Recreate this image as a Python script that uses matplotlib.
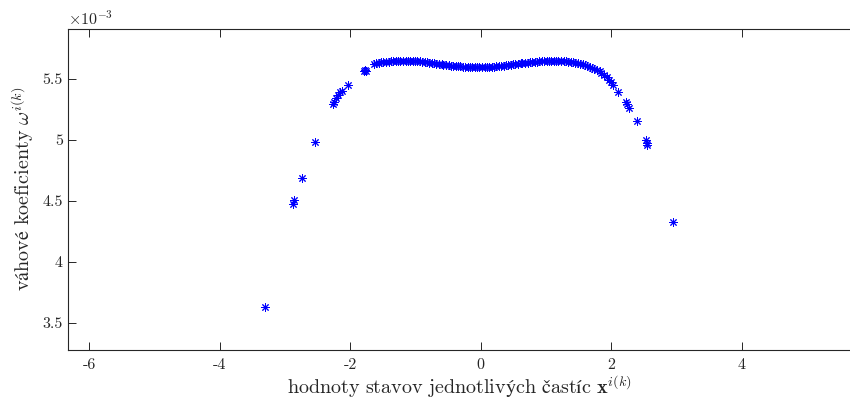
import matplotlib
matplotlib.use("Agg")
import matplotlib.pyplot as plt

plt.rcParams['mathtext.fontset'] = 'cm'
plt.rcParams['font.family'] = ['cmr10', 'DejaVu Serif']
plt.rcParams['axes.unicode_minus'] = False

# particle states (x) and weights (in units of 1e-3)
x_left_tail = [-3.30, -2.88, -2.86, -2.73, -2.54, -2.26, -2.24, -2.21, -2.18,
               -2.15, -2.13, -2.03, -1.78, -1.77, -1.76]
w_left_tail = [3.63, 4.47, 4.51, 4.69, 4.98, 5.29, 5.31, 5.34, 5.37,
               5.39, 5.40, 5.45, 5.56, 5.57, 5.565]

x_plateau = [-1.63, -1.60, -1.56, -1.52, -1.49, -1.45, -1.41, -1.38, -1.34, -1.30,
             -1.27, -1.23, -1.19, -1.15, -1.12, -1.08, -1.04, -1.01, -0.97, -0.93,
             -0.90, -0.86, -0.82, -0.79, -0.75, -0.71, -0.68, -0.64, -0.60, -0.57,
             -0.53, -0.49, -0.46, -0.42, -0.38, -0.35, -0.31, -0.27, -0.24, -0.20,
             -0.16, -0.13, -0.09, -0.05, -0.02, 0.02, 0.06, 0.09, 0.13, 0.17,
             0.20, 0.24, 0.28, 0.31, 0.35, 0.39, 0.42, 0.46, 0.50, 0.53,
             0.57, 0.61, 0.64, 0.68, 0.72, 0.75, 0.79, 0.83, 0.86, 0.90,
             0.94, 0.97, 1.01, 1.05, 1.08, 1.12, 1.16, 1.19, 1.23, 1.27,
             1.30, 1.34, 1.38, 1.41, 1.45, 1.49, 1.52, 1.56, 1.60, 1.63,
             1.67, 1.71, 1.74, 1.78, 1.82, 1.85, 1.89, 1.93, 1.97, 2.00, 2.03]
w_plateau = [5.622, 5.627, 5.630, 5.633, 5.636, 5.638, 5.640, 5.641, 5.643, 5.644,
             5.645, 5.646, 5.647, 5.647, 5.647, 5.647, 5.646, 5.645, 5.643, 5.641,
             5.640, 5.637, 5.634, 5.631, 5.628, 5.625, 5.623, 5.620, 5.617, 5.615,
             5.612, 5.610, 5.608, 5.606, 5.604, 5.602, 5.601, 5.599, 5.598, 5.597,
             5.596, 5.596, 5.595, 5.595, 5.595, 5.595, 5.596, 5.596, 5.597, 5.598,
             5.599, 5.601, 5.603, 5.605, 5.607, 5.609, 5.612, 5.614, 5.617, 5.619,
             5.622, 5.625, 5.627, 5.630, 5.632, 5.634, 5.636, 5.638, 5.640, 5.641,
             5.643, 5.644, 5.645, 5.646, 5.647, 5.647, 5.647, 5.647, 5.646, 5.645,
             5.643, 5.640, 5.637, 5.634, 5.630, 5.626, 5.622, 5.617, 5.611, 5.605,
             5.598, 5.590, 5.582, 5.572, 5.560, 5.548, 5.530, 5.512, 5.490, 5.472, 5.452]

x_right_tail = [2.11, 2.22, 2.24, 2.27, 2.39, 2.53, 2.54, 2.55, 2.95]
w_right_tail = [5.39, 5.31, 5.29, 5.26, 5.156, 5.00, 4.96, 4.975, 4.325]

x_ticks = [-6, -4, -2, 0, 2, 4]
x_tick_labels = ['-6', '-4', '-2', '0', '2', '4']
y_ticks = [3.5, 4.0, 4.5, 5.0, 5.5]
y_tick_labels = ['3.5', '4', '4.5', '5', '5.5']

x_all = x_left_tail + x_plateau + x_right_tail
w_all = [v * 1e-3 for v in (w_left_tail + w_plateau + w_right_tail)]

fig = plt.figure(figsize=(8.5, 3.99), dpi=100)
ax = fig.add_axes([67.7 / 850, (399 - 349.7) / 399, 1.0 - 67.7 / 850, (349.7 - 28.5) / 399])

ax.plot(x_all, w_all, linestyle='none', marker=(8, 2, 0), markersize=6,
        markeredgewidth=0.7, color=(0, 0, 1))

ax.set_xlim(-6.326, 5.657)
ax.set_ylim(3.281e-3, 5.911e-3)
ax.set_xticks(x_ticks)
ax.set_xticklabels(x_tick_labels)
ax.set_yticks([t * 1e-3 for t in y_ticks])
ax.set_yticklabels(y_tick_labels)

edge = '#262626'
for side in ['left', 'bottom', 'top']:
    ax.spines[side].set_color(edge)
    ax.spines[side].set_linewidth(0.8)
ax.spines['right'].set_visible(False)
ax.tick_params(axis='both', direction='in', length=6, width=0.7, color=edge,
               labelcolor=edge, labelsize=11.5, top=True, right=False)
ax.tick_params(axis='x', pad=6)

ax.set_xlabel(r'$\mathrm{hodnoty\ stavov\ jednotlivých\ častíc}\ \mathbf{x}^{i(k)}$',
              fontsize=14.5, color=edge, labelpad=1)
ax.set_ylabel(r'$\mathrm{váhové\ koeficienty}\ \omega^{i(k)}$',
              fontsize=14.5, color=edge, labelpad=5)

fig.text(68 / 850, 1 - 18 / 399, r'$\times10^{-3}$', fontsize=11.5, color=edge,
         ha='left', va='center')

fig.savefig('out.png', dpi=100)
